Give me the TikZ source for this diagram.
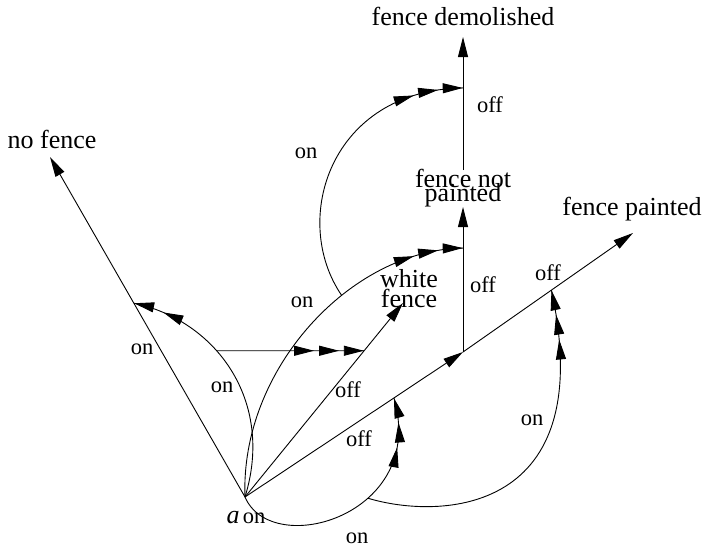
\documentclass[tikz,border=0pt]{standalone}
\usepackage{fontspec}
\setmainfont{Liberation Serif}
\usetikzlibrary{arrows.meta,decorations.markings,calc,intersections}

\tikzset{
  FTip/.tip={Triangle[length=20pt,width=10pt]},
  statelabel/.style={font=\fontsize{26}{26}\selectfont, inner sep=0pt, anchor=base},
  edgelabel/.style={font=\fontsize{22.5}{22.5}\selectfont, inner sep=0pt, anchor=base},
  conn/.style={line width=0.9pt, -{FTip}},
  arcline/.style={line width=0.9pt},
  twoheads/.style={arcline, postaction={decorate}, decoration={markings,
      mark=at position -31pt with {\arrow{FTip}},
      mark=at position -0.3pt with {\arrow{FTip}}}},
  threeheads/.style={arcline, postaction={decorate}, decoration={markings,
      mark=at position -50pt with {\arrow{FTip}},
      mark=at position -25pt with {\arrow{FTip}},
      mark=at position -0.3pt with {\arrow{FTip}}}},
}

\begin{document}
\begin{tikzpicture}[x=1pt, y=-1pt]
\useasboundingbox (0,0) rectangle (706,549);

% situations (two-line labels sit on the baseline of their last line)
\node[statelabel] (nf) at (52,148) {no fence};
\node[statelabel] (fd) at (463,25) {fence demolished};
\node[statelabel] (fp) at (632,215) {fence painted};
\node[statelabel, align=center, font={\fontsize{26}{20}\selectfont\lineskiplimit=-100pt}] (wf) at (409,307) {white\\fence};
\node[statelabel, align=center, font={\fontsize{26}{14}\selectfont\lineskiplimit=-100pt}] (fnp) at (463,201) {fence not\\painted};

\coordinate (a) at (245,497);
\coordinate (j) at (463,352);
\node[statelabel] (alab) at (233,523) {\itshape a};

% arrow ends next to the labels
\coordinate (nft) at ($(nf.base)+(-2,9)$);
\coordinate (fdt) at ($(fd.base)+(0,12)$);
\coordinate (fpt) at ($(fp.base)+(1,18)$);
\coordinate (wft) at ($(wf.base)+(-6,-4)$);
\coordinate (fnpt) at ($(fnp.base)+(0,6)$);
\coordinate (fnps) at ($(fnp.base)+(0,-31)$);

% actions
\draw[conn] (a) -- (nft);
\draw[conn, name path=wfline] (a) -- (wft);
\draw[conn] (a) -- (j);
\draw[conn] (j) -- (fpt);
\draw[conn] (j) -- (fnpt);
\draw[conn] (fnps) -- (fdt);

% points where the effect arcs meet the action lines
\coordinate (p1) at ($(a)!0.57!(nft)$);
\coordinate (p3) at ($(j)!0.717!(fnpt)$);
\coordinate (p4) at ($(fnps)!0.617!(fdt)$);
\coordinate (p5) at ($(a)!0.683!(j)$);
\coordinate (p6) at ($(j)!0.52!(fpt)$);

% effect arcs
\draw[twoheads] (a) .. controls (275,400) and (215,320) .. coordinate[pos=0.6] (h1) (p1);
\draw[threeheads] (a) .. controls (240,370) and (350,250) .. coordinate[pos=0.62] (q3) (p3);
\draw[threeheads] (q3) .. controls (290,220) and (330,90) .. (p4);
\draw[threeheads] (a) .. controls (272,560) and (428,515) .. coordinate[pos=0.62] (q5) (p5);
\draw[threeheads] (q5) .. controls (440,520) and (600,515) .. (p6);

\path[name path=hline] (h1) -- ++(300,0);
\path[name intersections={of=wfline and hline, by=h2}];
\draw[threeheads] (h1) -- (h2);

% labels
\node[edgelabel] (l1) at (142,354) {on};
\node[edgelabel] (l2) at (222,392) {on};
\node[edgelabel] (l3) at (302,307) {on};
\node[edgelabel] (l4) at (306,158) {on};
\node[edgelabel] (l5) at (348,397) {off};
\node[edgelabel] (l6) at (359,446) {off};
\node[edgelabel] (l7) at (490,112) {off};
\node[edgelabel] (l8) at (483,292) {off};
\node[edgelabel] (l9) at (548,280) {off};
\node[edgelabel] (l10) at (254,523) {on};
\node[edgelabel] (l11) at (357,543) {on};
\node[edgelabel] (l12) at (532,425) {on};
\end{tikzpicture}
\end{document}
